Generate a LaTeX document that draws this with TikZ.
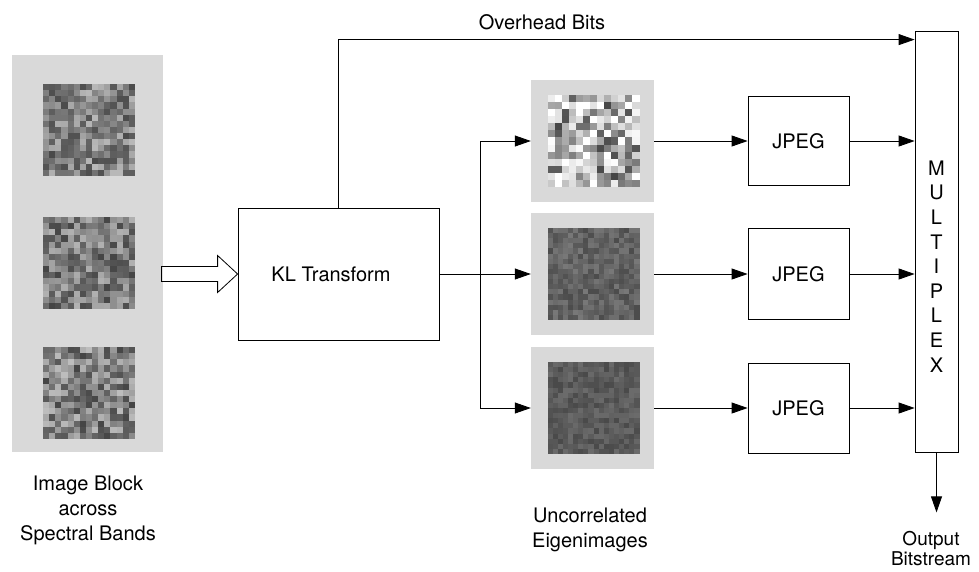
\documentclass[tikz,border=0pt]{standalone}
\usepackage{fontspec}
\setmainfont{TeX Gyre Heros}
\usetikzlibrary{arrows.meta}
\usetikzlibrary{calc}

\newcommand{\noisepatch}[6]{%
  \pgfmathsetmacro{\cw}{#3/#4}
  \foreach \i in {1,...,#4}{
    \foreach \j in {1,...,#4}{
      \pgfmathtruncatemacro{\g}{max(0,min(100,#5+#6*rand))}
      \pgfmathsetmacro{\xa}{#1-#3/2+(\i-1)*\cw}
      \pgfmathsetmacro{\ya}{#2-#3/2+(\j-1)*\cw}
      \fill[black!\g] (\xa,\ya) rectangle ++(\cw+.4,\cw+.4);
    }
  }
}

\tikzset{
  box/.style={draw, thick, inner sep=0pt},
  panel/.style={fill=black!15, minimum width=123pt, minimum height=122pt, inner sep=0pt},
  flow/.style={thick, -{Triangle[length=16pt,width=11pt]}},
  txt/.style={align=center, font=\fontsize{20}{25}\selectfont},
}

\begin{document}
\begin{tikzpicture}[x=1pt, y=-1pt]
			\useasboundingbox (0,0) rectangle (979,571);
			\pgfmathsetseed{11}

			\node[fill=black!15, minimum width=151pt, minimum height=397pt, inner sep=0pt] (blk) at (87.5,253.5) {};
			\noisepatch{89}{130}{92}{15}{50}{22}
			\noisepatch{89}{263}{92}{15}{52}{22}
			\noisepatch{89}{393}{92}{15}{50}{24}
			\node[txt] (blklbl) at (88,510) {Image Block\\across\\Spectral Bands};

			\node[box, minimum width=201pt, minimum height=132pt] (kl) at (338.5,274) {};
			\node[txt] (kltxt) at (331,274) {KL Transform};
			\draw[thick, fill=white] (kl.west) -- ++(-20,-18.5) -- ++(0,11) -- ++(-56,0) -- ++(0,15) -- ++(56,0) -- ++(0,11) -- cycle;

			\node[panel] (e1) at (592.5,141) {};
			\node[panel] (e2) at (592.5,274) {};
			\node[panel] (e3) at (592.5,408) {};
			\noisepatch{593.5}{141}{92}{13}{32}{42}
			\noisepatch{593.5}{274}{92}{18}{62}{9}
			\noisepatch{593.5}{408}{92}{18}{65}{7}
			\node[txt] (eiglbl) at (590,530) {Uncorrelated\\Eigenimages};

			\node[box, minimum width=101pt, minimum height=89pt] (j1) at (798.5,141) {\fontsize{20}{24}\selectfont JPEG};
			\node[box, minimum width=101pt, minimum height=91pt] (j2) at (798.5,274) {\fontsize{20}{24}\selectfont JPEG};
			\node[box, minimum width=101pt, minimum height=90pt] (j3) at (798.5,408) {\fontsize{20}{24}\selectfont JPEG};

			\node[box, minimum width=43pt, minimum height=421pt] (mux) at (936.5,241.5) {};
			\foreach \c [count=\k] in {M,U,L,T,I,P,L,E,X}
				\node[font=\fontsize{20}{24}\selectfont] (mx\k) at (936.5,143.4+24.6*\k) {\c};

			\coordinate (ovr) at ($(mux.north west)+(0,9)$);
			\draw[flow] (kl.north) |- (ovr);
			\node[txt] (ovlbl) at (542,22) {Overhead Bits};

			\coordinate (br) at ($(kl.east)+(41,0)$);
			\draw[flow] (kl.east) -- (e2.west);
			\draw[flow] (br) |- (e1.west);
			\draw[flow] (br) |- (e3.west);

			\draw[flow] (e1.east) -- (j1.west);
			\draw[flow] (e2.east) -- (j2.west);
			\draw[flow] (e3.east) -- (j3.west);

			\draw[flow] (j1.east) -- (j1.east -| mux.west);
			\draw[flow] (j2.east) -- (j2.east -| mux.west);
			\draw[flow] (j3.east) -- (j3.east -| mux.west);

			\draw[flow] (mux.south) -- ++(0,60);
			\node[align=center, font=\fontsize{19}{20}\selectfont] (outlbl) at (931,549) {Output\\Bitstream};
		\end{tikzpicture}
\end{document}
